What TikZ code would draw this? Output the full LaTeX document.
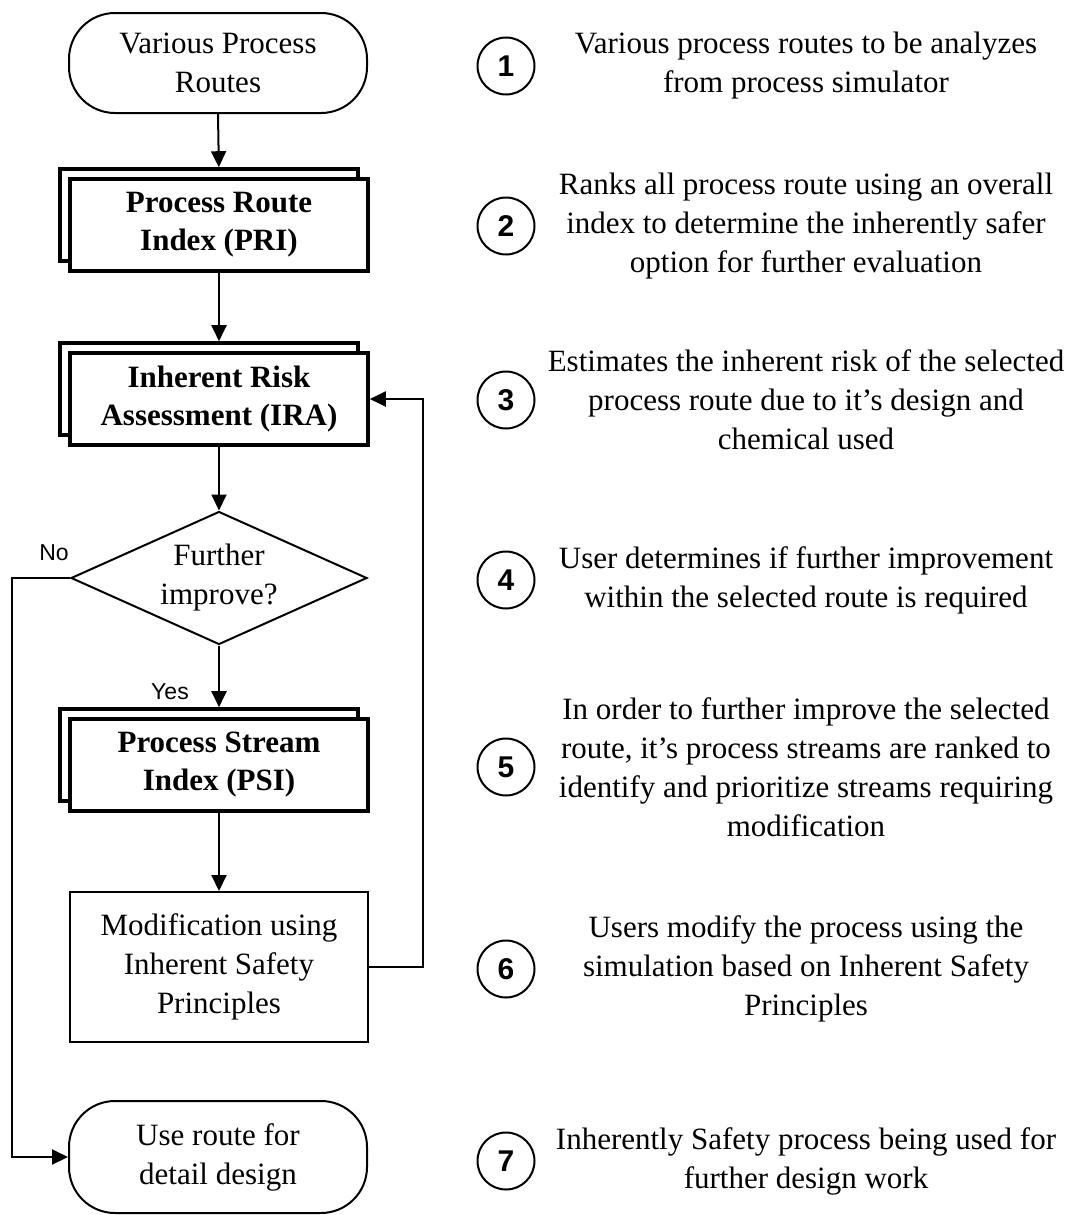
\documentclass[tikz,border=0pt]{standalone}
\usepackage{fontspec}
\setmainfont{Liberation Serif}
\setsansfont{Liberation Sans}
\usetikzlibrary{arrows.meta, shapes.geometric, shadows}

\begin{document}
\begin{tikzpicture}[
      x=0.5pt, y=-0.5pt,
      >={Triangle[length=8pt,width=7.5pt]},
      line width=1pt,
      txt/.style={font=\fontsize{15.5}{19.5}\selectfont, align=center},
      term/.style={txt, draw, rounded corners=23pt, minimum width=149pt, minimum height=50pt, inner sep=0pt},
      stackbox/.style={txt, font=\fontsize{15.5}{19}\selectfont\bfseries, draw, line width=1.8pt, fill=white,
        minimum width=149pt, minimum height=46pt, inner sep=0pt,
        copy shadow={shadow xshift=-5pt, shadow yshift=5pt}},
      plainbox/.style={txt, draw, minimum width=149pt, minimum height=75pt, inner sep=0pt},
      decision/.style={txt, draw, shape=diamond, aspect=2.2, minimum width=148pt, minimum height=66.5pt, inner sep=0pt},
      lbl/.style={font=\sffamily\fontsize{11.5}{13}\selectfont},
      num/.style={draw, circle, minimum size=28.5pt, inner sep=0pt, font=\sffamily\bfseries\fontsize{15}{15}\selectfont},
      note/.style={txt, anchor=center}
    ]
    \useasboundingbox (0,0) rectangle (1071,1215);

    % flowchart
    \node[term] (start) at (218,63) {Various Process\\Routes};
    \node[stackbox] (pri) at (219,225) {Process Route\\Index (PRI)};
    \node[stackbox] (ira) at (219,399) {Inherent Risk\\Assessment (IRA)};
    \node[decision] (dec) at (219,578) {Further\\improve?};
    \node[stackbox] (psi) at (219,765) {Process Stream\\Index (PSI)};
    \node[plainbox] (mod) at (219,967) {Modification using\\Inherent Safety\\Principles};
    \node[term, minimum height=56pt] (use) at (218,1157) {Use route for\\detail design};

    \node[lbl] (no) at (54,553) {No};
    \node[lbl] (yes) at (170,692) {Yes};

    % connectors
    \draw[->, shorten >=5pt] (start.south) -- (pri.north);
    \draw[->, shorten >=5pt] (pri.south) -- (ira.north);
    \draw[->] (ira.south) -- (dec.north);
    \draw[->, shorten >=5pt] (dec.south) -- (psi.north);
    \draw[->] (psi.south) -- (mod.north);
    \draw[->] (mod.east) -- ++(54,0) |- (ira.east);
    \draw[->] (dec.west) -- ++(-58,0) |- (use.west);

    % step notes
    \foreach \n/\y/\t in {
        1/66/{Various process routes to be analyzes\\from process simulator},
        2/226/{Ranks all process route using an overall\\index to determine the inherently safer\\option for further evaluation},
        3/400/{Estimates the inherent risk of the selected\\process route due to it's design and\\chemical used},
        4/580/{User determines if further improvement\\within the selected route is required},
        5/767/{In order to further improve the selected\\route, it's process streams are ranked to\\identify and prioritize streams requiring\\modification},
        6/969/{Users modify the process using the\\simulation based on Inherent Safety\\Principles},
        7/1161/{Inherently Safety process being used for\\further design work}}
    {
      \node[num] (c\n) at (506,\y) {\n};
      \node[note] (t\n) at (806,\y) {\t};
    }
  \end{tikzpicture}
\end{document}
